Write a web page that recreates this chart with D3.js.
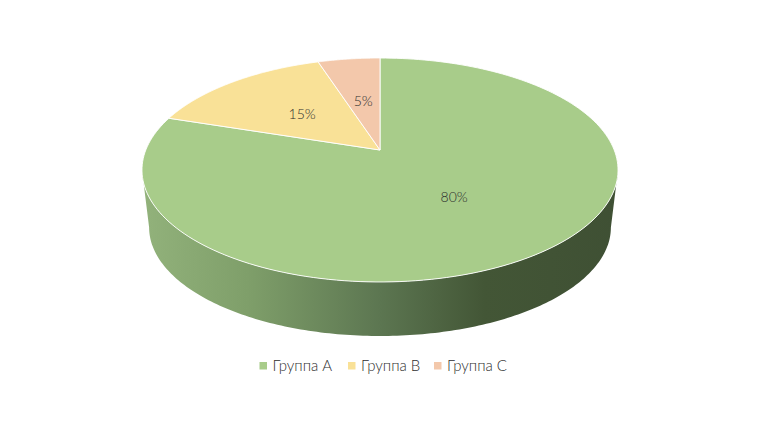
<!DOCTYPE html>
<html><head><meta charset="utf-8">
<script src="https://cdn.jsdelivr.net/npm/d3@7/dist/d3.min.js"></script>
<style>html,body{margin:0;background:#fff}svg{display:block;opacity:.999}text{font-family:Lato,"Open Sans",sans-serif;font-weight:300;fill:#2e2e2e}</style>
</head><body><svg id="c" width="760" height="428"></svg>
<script>
const categories = ["Группа A", "Группа B", "Группа C"];
const values = [80, 15, 5];
const labels = ["80%", "15%", "5%"];
const colors = ["#a8cc8a", "#f9e197", "#f3c8ab"];
const sideStops = [[0,"#92b27b"],[0.22,"#7f9f6a"],[0.5,"#5c7651"],[0.72,"#435636"],[1,"#3f5034"]];

const svg = d3.select("#c");
const color = d3.scaleOrdinal(categories, colors);
const cx = 380, cy = 150, A = 234.2, B = 108.4, k = 0.1786;
// perspective projection of a point of the unit disc
const proj = (a, r=1) => {
  const u = r*Math.sin(a), v = r*Math.cos(a), d = 1 + k*v;
  return [cx + A*u/d, cy - B*v/d];
};
// lower rim: same projection, scaled and moved down
const low = (a) => {
  const [x,y] = proj(a);
  return [cx + (x-cx)*0.97, 170 + (y-170)*0.97 + 57.4];
};
const arcs = d3.pie().sort(null).value(d=>d)(values);
const line = d3.line();
const steps = (a0,a1,n=180) => d3.range(n+1).map(i=>a0+(a1-a0)*i/n);

const defs = svg.append("defs");
const g = defs.append("linearGradient").attr("id","side").attr("gradientUnits","userSpaceOnUse")
  .attr("x1",143).attr("x2",617).attr("y1",0).attr("y2",0);
sideStops.forEach(s=>g.append("stop").attr("offset",s[0]).attr("stop-color",s[1]));

// side wall: front half of the rim, between the widest points of the ellipse
const a0 = Math.acos(-k), a1 = 2*Math.PI - a0;
const upperRim = steps(a0,a1).map(a=>proj(a));
const lowerRim = steps(a1,a0).map(a=>low(a));
svg.append("path").attr("d", line(upperRim.concat(lowerRim))+"Z").attr("fill","url(#side)");

// slices
arcs.forEach((d,i)=>{
  const pts = [[cx,cy]].concat(steps(d.startAngle,d.endAngle).map(a=>proj(a)));
  svg.append("path").attr("d",line(pts)+"Z")
    .attr("fill",color(categories[i])).attr("stroke","#fff").attr("stroke-width",0.9).attr("stroke-linejoin","round");
});
// labels
arcs.forEach((d,i)=>{
  const [x,y] = proj((d.startAngle+d.endAngle)/2,0.5);
  svg.append("text").attr("x",x).attr("y",y).attr("dy","0.35em").attr("text-anchor","middle")
    .attr("font-size",14).text(labels[i]);
});
// legend
const legendX = d3.scaleOrdinal(categories,[259.5,348,434]);
categories.forEach(c=>{
  const x = legendX(c);
  svg.append("rect").attr("x",x).attr("y",362).attr("width",7.5).attr("height",7.5).attr("fill",color(c));
  svg.append("text").attr("x",x+13).attr("y",371).attr("font-size",15).text(c);
});
</script></body></html>
